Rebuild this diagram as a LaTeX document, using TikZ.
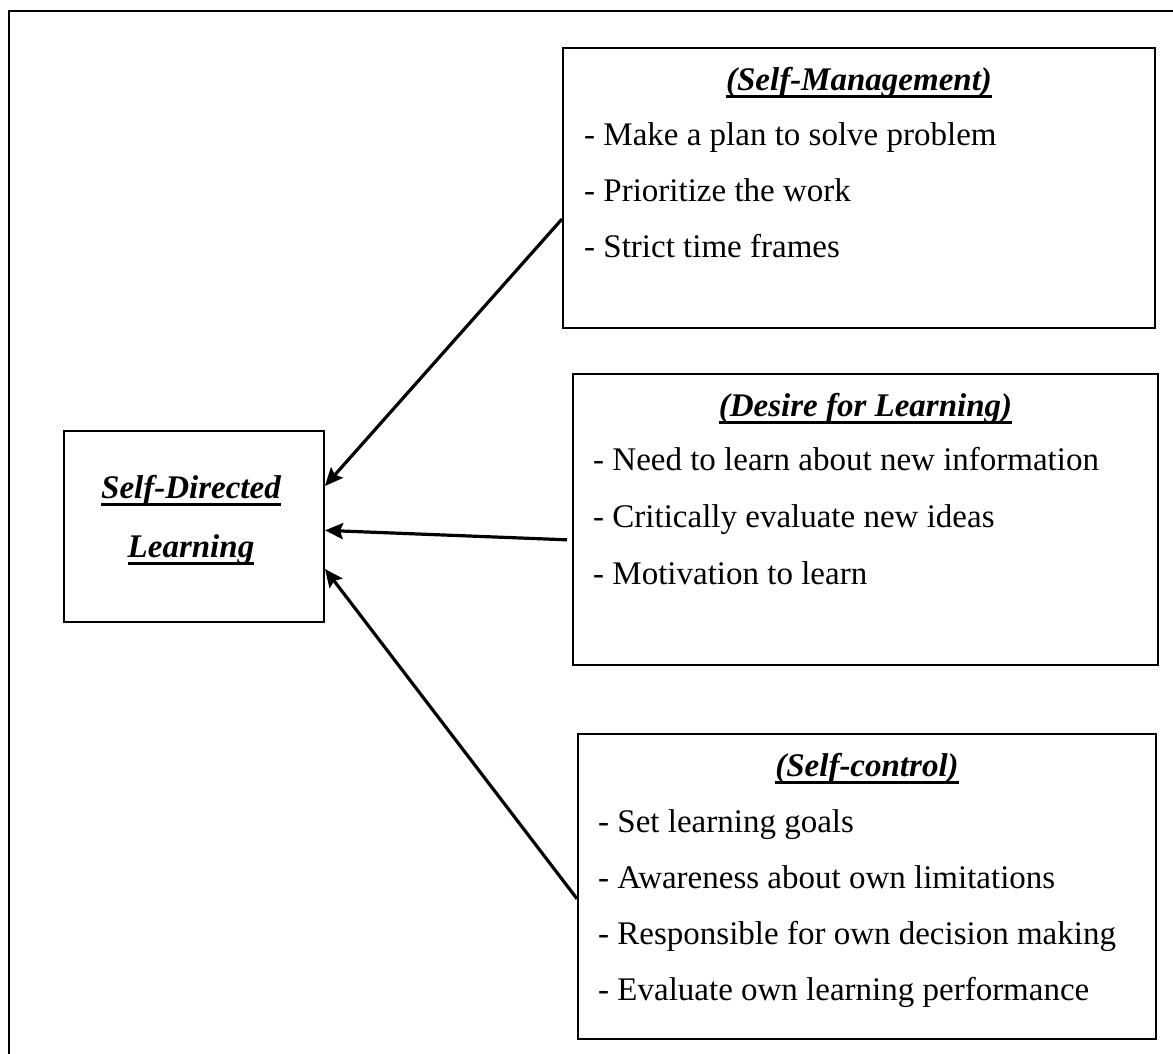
\documentclass[tikz,border=0pt]{standalone}
\usepackage{fontspec}
\setmainfont{Liberation Serif}
\usepackage{tikz}
\usetikzlibrary{arrows.meta, positioning, calc}

% thick underline for the headings
\newcommand{\ulhead}[1]{\setbox0\hbox{#1}\leavevmode\rlap{\copy0}\vrule width\wd0 height-5pt depth 8pt\relax}

\begin{document}
\begin{tikzpicture}[
    x=1pt, y=-1pt,
    box/.style={rectangle, draw=black, line width=2pt, anchor=north west, inner sep=0pt},
    heading/.style={anchor=base, inner sep=0pt, font=\fontsize{33}{40}\selectfont\bfseries\itshape},
    item/.style={anchor=base west, inner sep=0pt, font=\fontsize{33}{40}\selectfont},
    arrow/.style={line width=3.2pt, -{Stealth[length=18pt,width=16pt,inset=3pt]}}
]

    \useasboundingbox (0,0) rectangle (1173,1053);
    \clip (0,0) rectangle (1173,1053);

    % outer frame, runs off the right and bottom
    \draw[line width=2.4pt] (9,1080) -- (9,11) -- (1190,11);

    % centre box
    \node[box, minimum width=260pt, minimum height=191pt] (sdl) at (63,430) {};
    \node[heading] (sdl-a) at ($(sdl.north)+(-3,68)$) {\ulhead{Self-Directed}};
    \node[heading] (sdl-b) at ($(sdl.north)+(-3,127)$) {\ulhead{Learning}};

    % right boxes
    \node[box, minimum width=592pt, minimum height=280pt] (mgmt) at (562,47) {};
    \node[box, minimum width=585pt, minimum height=291pt] (desire) at (572,373) {};
    \node[box, minimum width=578pt, minimum height=305pt] (ctrl) at (577,733) {};

    \node[heading] (mgmt-h) at ($(mgmt.north)+(0,43)$) {\ulhead{(Self-Management)}};
    \node[heading] (desire-h) at ($(desire.north)+(0,43)$) {\ulhead{(Desire for Learning)}};
    \node[heading] (ctrl-h) at ($(ctrl.north)+(0,43)$) {\ulhead{(Self-control)}};

    \foreach \txt [count=\i] in {Make a plan to solve problem, Prioritize the work, Strict time frames}
        \node[item] (mgmt-\i) at ($(mgmt.north west)+(22,{98+56*(\i-1)})$) {- \txt};
    \foreach \txt [count=\i] in {Need to learn about new information, Critically evaluate new ideas, Motivation to learn}
        \node[item] (desire-\i) at ($(desire.north west)+(21,{97+57*(\i-1)})$) {- \txt};
    \foreach \txt [count=\i] in {Set learning goals, Awareness about own limitations, Responsible for own decision making, Evaluate own learning performance}
        \node[item] (ctrl-\i) at ($(ctrl.north west)+(21,{99+56*(\i-1)})$) {- \txt};

    % arrows into the centre box
    \draw[arrow] ($(mgmt.north west)!0.61!(mgmt.south west)$) -- ($(sdl.north east)!0.29!(sdl.south east)$);
    \draw[arrow, shorten <=5pt] ($(desire.north west)!0.57!(desire.south west)$) -- ($(sdl.north east)!0.52!(sdl.south east)$);
    \draw[arrow] ($(ctrl.north west)!0.54!(ctrl.south west)$) -- ($(sdl.north east)!0.72!(sdl.south east)$);

\end{tikzpicture}
\end{document}
